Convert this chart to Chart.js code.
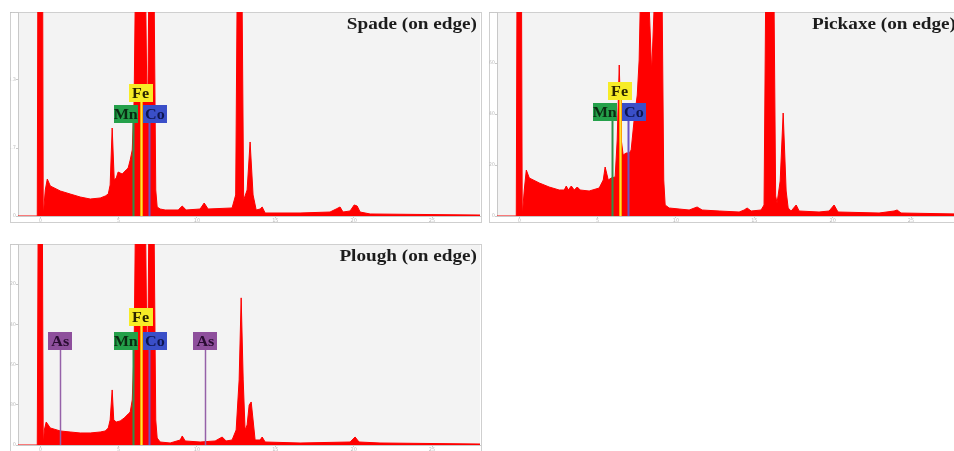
<!DOCTYPE html>
<html>
<head>
<meta charset="utf-8">
<script src="https://cdn.jsdelivr.net/npm/chart.js@4.4.1/dist/chart.umd.min.js"></script>
<style>
html,body{margin:0;padding:0;background:#fff;overflow:hidden;width:954px;height:451px;}
.panel{position:absolute;}
</style>
</head>
<body>
<div class="panel" style="left:10px;top:12px"><canvas id="spade" width="472" height="211"></canvas></div>
<div class="panel" style="left:489px;top:12px"><canvas id="pickaxe" width="472" height="211"></canvas></div>
<div class="panel" style="left:10px;top:244px"><canvas id="plough" width="472" height="208"></canvas></div>
<script>
// energy axis (keV) and tick step
const keVMin = -1.42, keVMax = 28.06, keVStep = 5;
const countStep = 1000;

// XRF spectra (keV, counts)
const spadeKeV = [-1.42,-0.19,-0.10,0.10,0.19,0.32,0.45,0.64,1.28,1.91,2.55,3.19,3.83,4.15,4.34,4.46,4.59,4.72,4.85,4.97,5.23,5.48,5.61,5.74,5.87,5.99,6.06,6.38,6.73,6.79,6.86,6.92,7.08,7.27,7.37,7.46,7.65,7.97,8.80,9.06,9.31,10.20,10.46,10.71,12.24,12.47,12.56,12.72,12.88,12.98,13.20,13.39,13.58,13.78,14.03,14.16,14.35,16.58,18.49,18.88,19.13,19.32,19.77,20.03,20.22,20.41,21.05,28.06];
const spadeCounts = [0,0,9000,9000,0,398,567,460,383,337,291,260,276,306,337,475,1348,552,582,674,643,705,735,858,1011,1777,3300,9000,3300,2083,1624,3300,9000,3300,398,138,107,92,92,153,92,107,199,107,123,322,3300,9000,3300,245,398,1134,322,92,107,138,46,46,61,107,138,61,77,169,153,61,31,15];

const pickaxeKeV = [-1.42,-0.19,-0.10,0.10,0.19,0.32,0.45,0.64,1.28,1.91,2.55,2.87,3.00,3.13,3.32,3.51,3.70,3.89,4.46,5.10,5.36,5.48,5.68,5.87,6.12,6.25,6.38,6.51,6.63,6.82,7.02,7.14,7.33,7.53,7.65,7.72,8.00,8.29,8.45,8.61,8.86,9.12,9.22,9.31,9.57,10.20,10.84,11.35,11.67,12.76,14.03,14.35,14.54,14.80,15.43,15.62,15.72,16.01,16.26,16.36,16.45,16.65,16.84,17.03,17.16,17.35,17.67,17.86,19.13,19.77,20.09,20.34,22.96,23.92,24.11,24.36,28.06];
const pickaxeCounts = [0,0,9000,9000,0,520,920,760,660,580,520,520,600,520,600,520,580,520,500,560,720,980,720,760,780,1520,3020,1520,1220,1260,1260,1320,1920,2420,3120,4200,9000,4200,2880,4200,9000,4200,720,220,160,140,120,180,120,100,80,120,160,100,120,220,4200,9000,4200,400,260,700,2060,500,160,100,220,100,80,100,220,80,60,100,120,60,40];

const ploughKeV = [-1.42,-0.19,-0.10,0.10,0.19,0.26,0.38,0.64,1.28,1.91,2.55,3.19,3.83,4.15,4.34,4.46,4.59,4.69,4.85,5.10,5.36,5.61,5.74,5.87,5.99,6.06,6.38,6.73,6.79,6.86,6.92,7.08,7.27,7.37,7.46,7.65,8.29,8.93,9.06,9.25,10.20,11.16,11.61,11.86,12.24,12.50,12.69,12.82,12.95,13.07,13.20,13.33,13.46,13.58,13.71,14.03,14.16,14.35,16.58,19.77,20.09,20.34,21.68,28.06];
const ploughCounts = [0,0,9000,9000,0,366,561,415,342,317,293,293,317,342,415,610,1342,610,561,586,659,756,805,1098,2318,5000,9000,5000,2806,2074,5000,9000,5000,610,171,73,49,122,220,98,73,98,195,98,122,366,1586,3587,1586,366,488,976,1049,610,122,122,195,73,49,73,195,73,49,24];

// count axis maxima of the three panels
const panelTitles = ['Spade (on edge)', 'Pickaxe (on edge)', 'Plough (on edge)'];
const panelMax = [3125, 4080, 4900];

// element lines marked on each panel
const ironLabels = ['Mn', 'Fe', 'Co'];
const ironKeV = [5.90, 6.40, 6.93];
const arsenicLabels = ['As', 'As'];
const arsenicKeV = [1.28, 10.54];

const markStyle = {
  Mn: {box:'#24a04a', text:'#0b2a12', line:'#2e9048', lw:2, dx:-7, row:1},
  Fe: {box:'#f7ec26', text:'#2a2400', line:'#ffa200', lw:3, dx:0, row:0},
  Co: {box:'#3a4fc8', text:'#0e1650', line:'#6a52c6', lw:2, dx:6, row:1},
  As: {box:'#8e4f9c', text:'#2a0c32', line:'#9561a8', lw:1.5, dx:0, row:1}
};

const spectrumPlugin = {
  id: 'spectrum',
  beforeDraw(chart){
    const {ctx, chartArea:a, width, height} = chart;
    ctx.save();
    ctx.fillStyle = '#fff';
    ctx.fillRect(0, 0, width, height);
    ctx.fillStyle = '#f3f3f3';
    ctx.fillRect(a.left, a.top, a.right - a.left, a.bottom - a.top);
    ctx.strokeStyle = '#cfcfcf';
    ctx.lineWidth = 1;
    ctx.strokeRect(0.5, 0.5, width - 1, height - 1);
    ctx.restore();
  },
  afterDatasetsDraw(chart, args, opts){
    const {ctx, chartArea:a, scales:{x}} = chart;
    ctx.save();
    ctx.beginPath();
    ctx.rect(a.left, a.top, a.right - a.left, a.bottom - a.top);
    ctx.clip();
    const bw = 24, bh = 18;
    opts.labels.forEach((lab, i) => {
      const st = markStyle[lab];
      const lx = Math.round(x.getPixelForValue(opts.keV[i])) + 0.5;
      const top = a.top + opts.rows[st.row];
      ctx.strokeStyle = st.line;
      ctx.lineWidth = st.lw;
      ctx.beginPath();
      ctx.moveTo(lx, top + bh);
      ctx.lineTo(lx, a.bottom);
      ctx.stroke();
      if (lab === 'Fe') {
        ctx.strokeStyle = '#ffe23a';
        ctx.lineWidth = 1;
        ctx.beginPath();
        ctx.moveTo(lx, top + bh);
        ctx.lineTo(lx, a.bottom);
        ctx.stroke();
      }
    });
    opts.labels.forEach((lab, i) => {
      const st = markStyle[lab];
      const cx = x.getPixelForValue(opts.keV[i]) + st.dx;
      const top = a.top + opts.rows[st.row];
      ctx.fillStyle = st.box;
      ctx.fillRect(Math.round(cx - bw / 2), top, bw, bh);
      ctx.save();
      ctx.translate(cx, top + 14);
      ctx.scale(1.15, 1);
      ctx.font = 'bold 14px "Liberation Serif"';
      ctx.textAlign = 'center';
      ctx.fillStyle = st.text;
      ctx.fillText(lab, 0, 0);
      ctx.restore();
    });
    ctx.translate(a.right - 3, a.top + 17);
    ctx.scale(1.2, 1);
    ctx.font = 'bold 16px "Liberation Serif"';
    ctx.textAlign = 'right';
    ctx.fillStyle = '#1c1c1c';
    ctx.fillText(opts.title, 0, 0);
    ctx.restore();
  }
};

function makeSpectrum(id, keV, counts, idx, labels, labelKeV, rows){
  const tickFont = {size: 5, family: 'DejaVu Sans'};
  return new Chart(document.getElementById(id), {
    type: 'line',
    data: {
      datasets: [{
        data: keV.map((k, i) => ({x: k, y: counts[i]})),
        borderColor: '#ff0000',
        backgroundColor: '#ff0000',
        borderWidth: 1,
        fill: 'origin',
        pointRadius: 0,
        tension: 0
      }]
    },
    options: {
      responsive: false,
      animation: false,
      events: [],
      layout: {padding: {left: 0, right: 2, top: 0, bottom: 0}},
      plugins: {
        legend: {display: false},
        tooltip: {enabled: false},
        spectrum: {title: panelTitles[idx], labels, keV: labelKeV, rows}
      },
      scales: {
        x: {
          type: 'linear', min: keVMin, max: keVMax,
          ticks: {stepSize: keVStep, includeBounds: false, font: tickFont, color: '#bdbdbd', padding: 0, maxRotation: 0, autoSkip: false},
          grid: {drawOnChartArea: false, tickLength: 2, color: '#c8c8c8'},
          border: {color: '#c8c8c8'},
          afterFit(s){ s.height = 7; s.paddingLeft = 0; s.paddingRight = 0; }
        },
        y: {
          min: 0, max: panelMax[idx],
          ticks: {stepSize: countStep, includeBounds: false, font: tickFont, color: '#bdbdbd', padding: 0},
          grid: {drawOnChartArea: false, tickLength: 2, color: '#c8c8c8'},
          border: {color: '#c8c8c8'},
          afterFit(s){ s.width = 8; s.paddingTop = 0; s.paddingBottom = 0; }
        }
      }
    },
    plugins: [spectrumPlugin]
  });
}

makeSpectrum('spade', spadeKeV, spadeCounts, 0, ironLabels, ironKeV, [72, 93]);
makeSpectrum('pickaxe', pickaxeKeV, pickaxeCounts, 1, ironLabels, ironKeV, [70, 91]);
makeSpectrum('plough', ploughKeV, ploughCounts, 2,
  [arsenicLabels[0], ...ironLabels, arsenicLabels[1]],
  [arsenicKeV[0], ...ironKeV, arsenicKeV[1]], [64, 88]);
</script>
</body>
</html>
